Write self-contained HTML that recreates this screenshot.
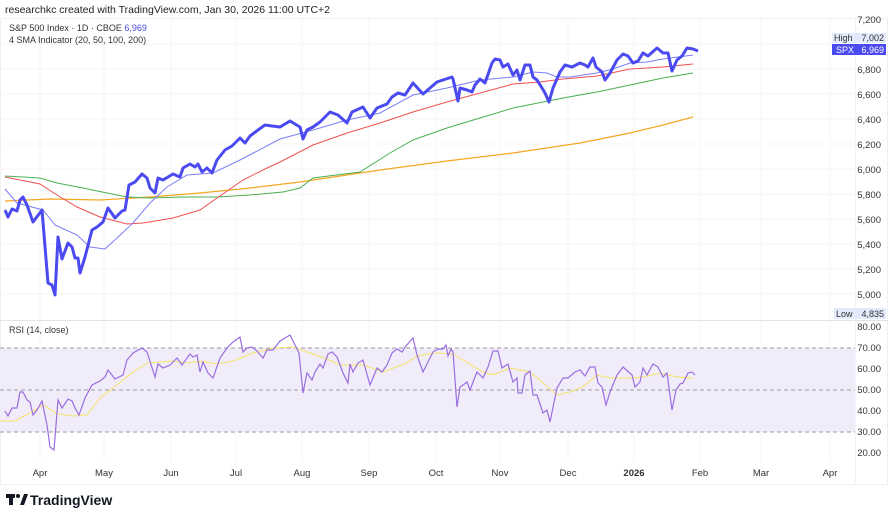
<!DOCTYPE html>
<html><head><meta charset="utf-8"><style>
body{margin:0;background:#fff;width:895px;height:510px;overflow:hidden;font-family:"Liberation Sans",sans-serif}
svg text{font-family:"Liberation Sans",sans-serif}
</style></head><body>
<svg width="895" height="510" viewBox="0 0 895 510" xmlns="http://www.w3.org/2000/svg">
<text x="5" y="13" font-size="10.5" fill="#222">researchkc created with TradingView.com, Jan 30, 2026 11:00 UTC+2</text>
<rect x="0.5" y="18.5" width="887" height="466" fill="none" stroke="#eef0f3"/>
<g stroke="#f4f5f7" stroke-width="1">
<line x1="40" y1="19" x2="40" y2="462"/><line x1="104" y1="19" x2="104" y2="462"/><line x1="171" y1="19" x2="171" y2="462"/><line x1="236" y1="19" x2="236" y2="462"/><line x1="302" y1="19" x2="302" y2="462"/><line x1="369" y1="19" x2="369" y2="462"/><line x1="436" y1="19" x2="436" y2="462"/><line x1="500" y1="19" x2="500" y2="462"/><line x1="568" y1="19" x2="568" y2="462"/><line x1="634" y1="19" x2="634" y2="462"/><line x1="700" y1="19" x2="700" y2="462"/><line x1="761" y1="19" x2="761" y2="462"/><line x1="830" y1="19" x2="830" y2="462"/>
<line x1="0" y1="44" x2="855" y2="44"/><line x1="0" y1="69" x2="855" y2="69"/><line x1="0" y1="94" x2="855" y2="94"/><line x1="0" y1="119" x2="855" y2="119"/><line x1="0" y1="144" x2="855" y2="144"/><line x1="0" y1="169" x2="855" y2="169"/><line x1="0" y1="194" x2="855" y2="194"/><line x1="0" y1="219" x2="855" y2="219"/><line x1="0" y1="244" x2="855" y2="244"/><line x1="0" y1="269" x2="855" y2="269"/><line x1="0" y1="294" x2="855" y2="294"/>
</g>
<line x1="0" y1="320.5" x2="888" y2="320.5" stroke="#e0e3eb"/>
<line x1="855.5" y1="19" x2="855.5" y2="484" stroke="#f2f3f5"/>
<text x="9" y="31" font-size="9" fill="#333">S&amp;P 500 Index · 1D · CBOE <tspan fill="#4a4ae8">6,969</tspan></text>
<text x="9" y="43" font-size="9" fill="#333">4 SMA Indicator (20, 50, 100, 200)</text>
<polyline fill="none" stroke="#f5a623" stroke-width="1.2" points="5,201 50,199 100,200 150,197 200,193 250,188 300,182 320,179 380,170 447,161 513,153 580,143 630,133 663,125 693,117"/>
<polyline fill="none" stroke="#4caf50" stroke-width="1" points="5,176 40,178 57,183 83,188 107,193 127,197 150,198 183,197 217,197 250,195 283,192 300,188 313,178 360,172 390,153 413,140 447,128 480,118 513,108 533,104 563,98 597,92 630,85 663,78 693,73"/>
<polyline fill="none" stroke="#f05050" stroke-width="1" points="5,177 20,180 40,184 57,195 77,207 100,217 127,224 143,223 173,218 200,210 217,198 243,180 267,168 280,162 313,145 347,133 380,123 413,112 447,102 480,93 513,84 540,82 563,79 597,76 630,69 663,67 693,64"/>
<polyline fill="none" stroke="#7b7ff5" stroke-width="1" points="5,189 17,203 43,210 55,225 77,235 90,247 105,249 117,238 133,223 150,203 167,187 187,175 213,173 240,160 280,139 313,130 347,120 380,113 413,95 447,88 480,80 513,77 533,72 547,73 557,77 570,77 597,73 613,69 630,63 647,62 663,59 693,55"/>
<polyline fill="none" stroke="#4a4af0" stroke-width="3" stroke-linejoin="round" points="5,210 8,217 12,209 17,211 20,200 23,197 27,205 33,222 42,210 48,283 52,285 55,295 58,237 62,259 68,243 72,247 75,258 78,258 80,273 85,257 92,230 97,227 103,222 108,208 115,218 122,211 125,210 129,185 135,182 142,174 147,178 150,188 155,193 158,178 163,180 173,174 180,177 183,168 190,164 195,167 198,164 202,172 207,168 212,173 217,160 225,150 232,146 240,138 245,143 250,136 258,130 265,125 272,126 280,127 290,121 300,127 303,139 307,130 313,127 320,122 330,112 338,115 347,123 352,112 363,107 370,118 377,108 387,104 392,97 398,93 405,95 413,83 423,94 437,82 443,80 452,77 453,79 458,101 460,88 467,90 472,92 475,85 480,79 485,83 492,63 495,59 500,60 503,67 508,64 513,75 517,70 520,80 525,65 530,65 533,77 537,80 542,88 545,93 549,102 553,88 560,72 565,65 572,67 580,63 585,65 588,67 593,58 596,67 602,72 605,80 610,73 617,60 623,54 628,56 633,63 638,61 643,53 648,56 657,48 663,53 668,53 672,71 677,60 682,56 687,48 693,49 698,51"/>
<g font-size="9.5" fill="#333" text-anchor="end">
<text x="881" y="23">7,200</text><text x="881" y="73">6,800</text><text x="881" y="98">6,600</text><text x="881" y="123">6,400</text><text x="881" y="148">6,200</text><text x="881" y="173">6,000</text><text x="881" y="198">5,800</text><text x="881" y="223">5,600</text><text x="881" y="248">5,400</text><text x="881" y="273">5,200</text><text x="881" y="298">5,000</text>
</g>
<rect x="832" y="33" width="54" height="10" fill="#e3eafc"/>
<text x="834" y="41" font-size="9" fill="#333">High</text><text x="884" y="41" font-size="9" fill="#333" text-anchor="end">7,002</text>
<rect x="832" y="44" width="54" height="11" fill="#4a4af0"/>
<text x="836" y="53" font-size="9" fill="#fff">SPX</text><text x="884" y="53" font-size="9" fill="#fff" text-anchor="end">6,969</text>
<rect x="834" y="308" width="52" height="11" fill="#e3eafc"/>
<text x="836" y="317" font-size="9" fill="#333">Low</text><text x="884" y="317" font-size="9" fill="#333" text-anchor="end">4,835</text>
<rect x="0" y="348" width="855" height="84" fill="#f1ecf9"/>
<g stroke="#9a9aa0" stroke-dasharray="4,3" stroke-width="1">
<line x1="0" y1="348" x2="855" y2="348"/><line x1="0" y1="390" x2="855" y2="390"/><line x1="0" y1="432" x2="855" y2="432"/>
</g>
<text x="9" y="333" font-size="9" fill="#333">RSI (14, close)</text>
<polyline fill="none" stroke="#f5e36a" stroke-width="1" points="0,421 15,421 30,413 43,405 58,414 73,416 87,415 100,398 117,385 133,372 148,363 173,361 187,363 200,361 217,364 233,361 253,353 273,348 293,347 307,352 327,359 340,365 363,365 383,372 407,363 417,356 437,353 453,354 463,360 483,372 493,375 510,368 530,372 543,383 557,395 570,392 583,387 597,375 610,378 633,378 643,377 660,373 677,377 693,378"/>
<polyline fill="none" stroke="#9a6ee0" stroke-width="1.2" points="5,411 8,416 12,408 17,408 20,392 23,392 27,400 30,402 33,415 37,410 42,401 47,425 50,447 54,450 58,400 62,408 68,399 72,401 75,408 79,415 85,398 92,385 100,381 105,377 108,370 115,379 123,375 127,360 133,353 142,348 147,352 155,377 158,364 163,368 170,365 177,358 182,365 187,358 190,354 193,357 197,355 200,372 203,362 208,373 213,378 220,358 227,348 233,342 240,337 243,352 247,348 252,347 257,351 263,358 267,350 273,350 280,341 290,335 295,345 299,353 303,393 307,373 312,380 315,372 320,364 323,368 328,354 332,352 337,357 343,373 348,383 350,364 353,372 358,363 363,360 370,385 377,368 382,372 387,365 392,353 397,349 402,352 405,347 413,338 417,355 423,372 428,362 433,352 438,349 443,349 446,345 448,356 451,349 453,352 457,407 460,387 463,385 467,382 470,390 473,382 477,372 483,378 488,367 493,351 498,351 502,368 508,364 513,382 517,378 518,393 522,393 525,375 530,371 533,395 537,395 543,413 547,410 550,422 557,388 563,378 568,378 575,372 580,370 585,376 590,367 595,367 598,383 602,387 606,405 610,392 617,375 623,367 632,375 635,387 640,382 643,368 647,375 653,364 658,367 663,377 667,373 672,410 676,390 680,384 683,383 688,373 692,372 695,375"/>
<g font-size="9.5" fill="#333" text-anchor="end">
<text x="881" y="330">80.00</text><text x="881" y="351">70.00</text><text x="881" y="372">60.00</text><text x="881" y="393">50.00</text><text x="881" y="414">40.00</text><text x="881" y="435">30.00</text><text x="881" y="456">20.00</text>
</g>
<g font-size="9.5" fill="#333" text-anchor="middle">
<text x="40" y="476">Apr</text><text x="104" y="476">May</text><text x="171" y="476">Jun</text><text x="236" y="476">Jul</text><text x="302" y="476">Aug</text><text x="369" y="476">Sep</text><text x="436" y="476">Oct</text><text x="500" y="476">Nov</text><text x="568" y="476">Dec</text><text x="634" y="476" font-weight="bold">2026</text><text x="700" y="476">Feb</text><text x="761" y="476">Mar</text><text x="830" y="476">Apr</text>
</g>
<rect x="6" y="494" width="9" height="4" fill="#131722"/><rect x="9" y="494" width="4" height="11" fill="#131722"/><circle cx="18" cy="496" r="2" fill="#131722"/><polygon points="20,505 24,494 28,494 24,505" fill="#131722"/>
<text x="30" y="505" font-size="14" font-weight="bold" fill="#131722">TradingView</text>
</svg>
</body></html>
